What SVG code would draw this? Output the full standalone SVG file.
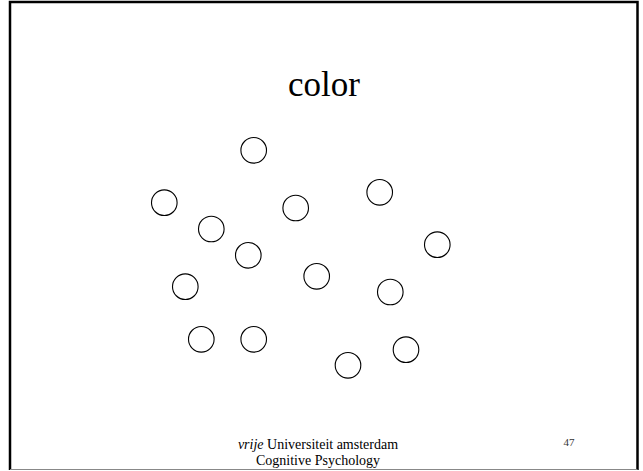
<svg xmlns="http://www.w3.org/2000/svg" width="643" height="471" viewBox="0 0 643 471">
<style>
.dot{fill:none;stroke:#000;stroke-width:1.1}
.foot{font-family:"Liberation Serif",serif;font-size:14px;fill:#000;text-anchor:middle}
</style>
<rect x="0" y="0" width="643" height="471" fill="#fff"/>
<g id="frame">
<path d="M10,470 V2 H637.5 V470" fill="none" stroke="#000" stroke-width="2.5"/>
<line x1="10" y1="469.5" x2="637.5" y2="469.5" stroke="#888" stroke-width="1"/>
</g>
<text id="title" x="324" y="96" font-family="'Liberation Serif',serif" font-size="35" text-anchor="middle">color</text>
<g id="circles">
<circle class="dot" cx="253.7" cy="150.3" r="12.8"/>
<circle class="dot" cx="164.3" cy="202.7" r="12.8"/>
<circle class="dot" cx="295.7" cy="208" r="12.8"/>
<circle class="dot" cx="379.7" cy="192.3" r="12.8"/>
<circle class="dot" cx="211.3" cy="229" r="12.8"/>
<circle class="dot" cx="248.3" cy="255.3" r="12.8"/>
<circle class="dot" cx="437.3" cy="244.7" r="12.8"/>
<circle class="dot" cx="185.3" cy="286.7" r="12.8"/>
<circle class="dot" cx="316.7" cy="276.3" r="12.8"/>
<circle class="dot" cx="390.3" cy="292" r="12.8"/>
<circle class="dot" cx="201.3" cy="339.3" r="12.8"/>
<circle class="dot" cx="253.7" cy="339.3" r="12.8"/>
<circle class="dot" cx="406" cy="349.7" r="12.8"/>
<circle class="dot" cx="348" cy="365.3" r="12.8"/>
</g>
<g id="footer">
<text class="foot" x="318" y="448.5"><tspan font-style="italic">vrije</tspan> Universiteit amsterdam</text>
<text class="foot" x="318" y="465">Cognitive Psychology</text>
<text x="569" y="446" font-family="'Liberation Serif',serif" font-size="11" fill="#333" text-anchor="middle">47</text>
</g>
</svg>
